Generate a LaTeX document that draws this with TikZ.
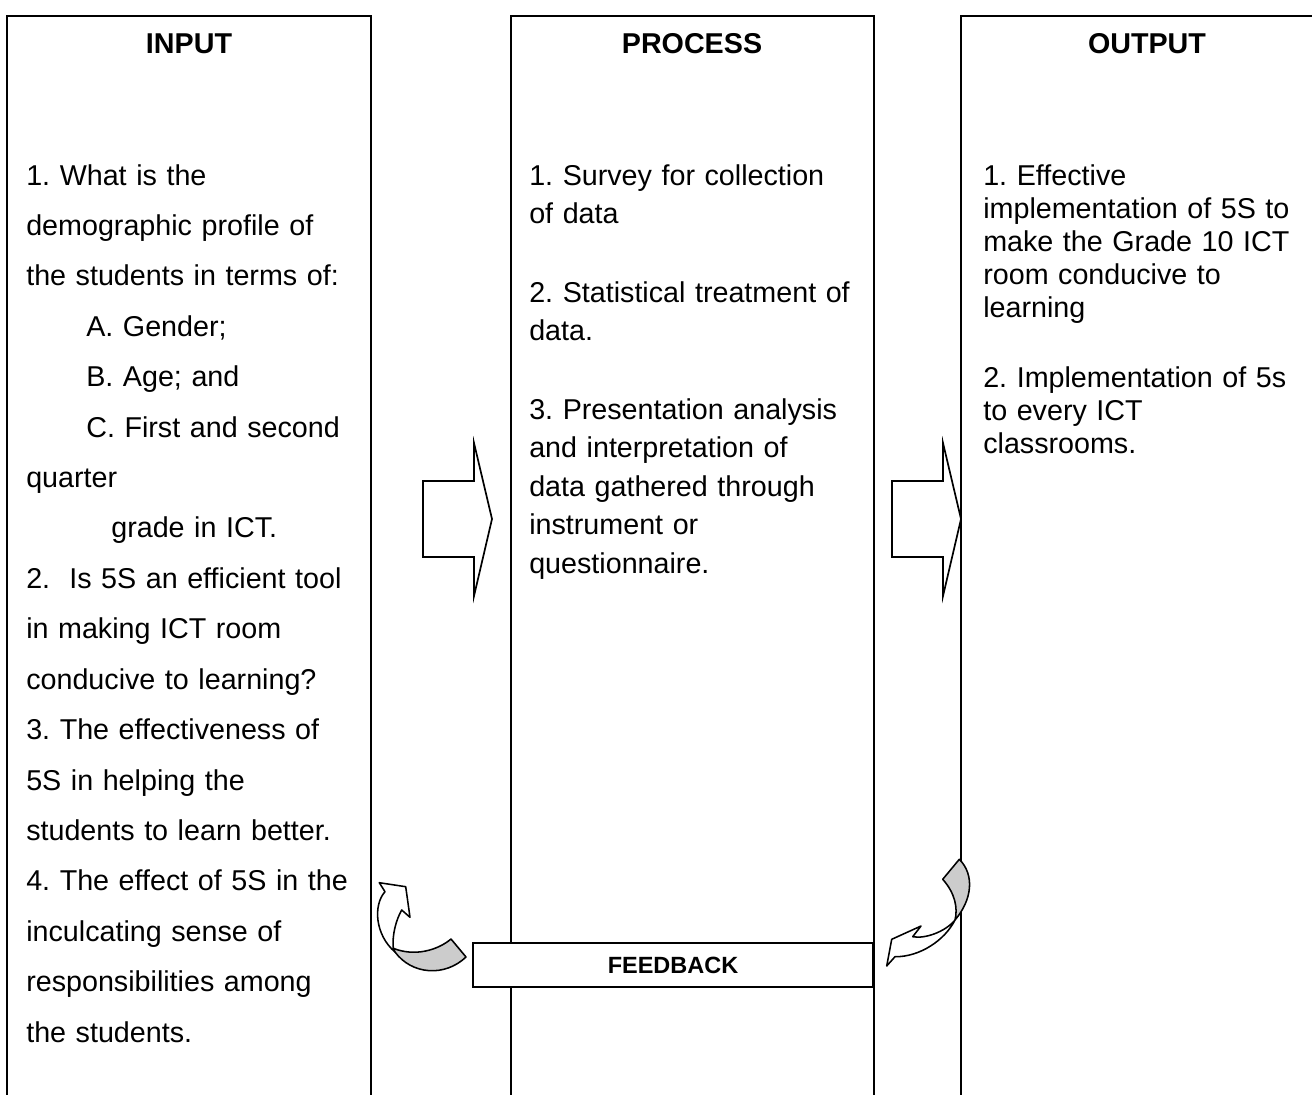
\documentclass[tikz,border=0pt]{standalone}
\usepackage{fontspec}
\setmainfont{Liberation Sans}
\frenchspacing

\begin{document}
\begin{tikzpicture}[x=0.025cm, y=-0.025cm,
		colline/.style={line width=1.3pt},
		head/.style={font=\fontsize{20.4pt}{24pt}\selectfont\bfseries},
		coltext/.style={anchor=north west, inner sep=0pt, text width=9cm, align=left},
		blockarrow/.style={line width=1.2pt, fill=white},
		bendfront/.style={line width=1.1pt, fill=white, line join=round},
		bendback/.style={line width=1.1pt, fill=gray!40, line join=round}]
			% Page
			\useasboundingbox (0,0) rectangle (1312,1095);
			
			% Columns, open at the bottom
			\draw[colline] (7,1095) -- (7,16) -- (371,16) -- (371,1095);
			\draw[colline] (511,1095) -- (511,16) -- (874,16) -- (874,1095);
			\draw[colline] (961,1095) -- (961,16) -- (1312,16);
			
			% Headings
			\node[head] (inputhead) at (189,44) {INPUT};
			\node[head] (processhead) at (692,44) {PROCESS};
			\node[head] (outputhead) at (1147,44) {OUTPUT};
			
			% Input column
			\node[coltext, font=\fontsize{20.4pt}{35.85pt}\selectfont] (inputtext) at (26,164) {1. What is the\\
				demographic profile of\\
				the students in terms of:\\
				\hspace*{1.5cm}A. Gender;\\
				\hspace*{1.5cm}B. Age; and\\
				\hspace*{1.5cm}C. First and second\\
				quarter\\
				\hspace*{2.125cm}grade in ICT.\\
				2.\ \ Is 5S an efficient tool\\
				in making ICT room\\
				conducive to learning?\\
				3. The effectiveness of\\
				5S in helping the\\
				students to learn better.\\
				4. The effect of 5S in the\\
				inculcating sense of\\
				responsibilities among\\
				the students.};
			
			% Process column
			\node[coltext, font=\fontsize{20.4pt}{27.4pt}\selectfont] (processtext) at (529,164) {1. Survey for collection\\
				of data\\[1cm]
				2. Statistical treatment of\\
				data.\\[1cm]
				3. Presentation analysis\\
				and interpretation of\\
				data gathered through\\
				instrument or\\
				questionnaire.};
			
			% Output column
			\node[coltext, font=\fontsize{20.4pt}{23.5pt}\selectfont] (outputtext) at (983,164) {1. Effective\\
				implementation of 5S to\\
				make the Grade 10 ICT\\
				room conducive to\\
				learning\\[0.925cm]
				2. Implementation of 5s\\
				to every ICT\\
				classrooms.};
			
			% Block arrows between columns
			\draw[blockarrow] (423,481) -- (474,481) -- (474,443) -- (492,519) -- (474,596) -- (474,557) -- (423,557) -- cycle;
			\draw[blockarrow] (892,481) -- (943,481) -- (943,443) -- (961,519) -- (943,596) -- (943,557) -- (892,557) -- cycle;
			
			% Feedback bar
			\node[draw, line width=1.3pt, fill=white, minimum width=10cm, minimum height=1.1cm, inner sep=0pt,
			font=\fontsize{16.7pt}{20pt}\selectfont\bfseries] (feedback) at (673,965) {FEEDBACK};
			
			% Curved arrow into the input column
			\draw[bendfront] (385,891.7) -- (379.3,882.7) -- (405.7,886.7) -- (410,917.3) -- (401.7,910)
			.. controls (396,920) and (392,935) .. (393.3,948.3) -- (395,952)
			.. controls (375,935) and (373,905) .. (385,891.7) -- cycle;
			\draw[bendback] (393.3,948.3) .. controls (415,957) and (438,950) .. (451,939) -- (466,957)
			.. controls (445,977) and (412,975) .. (395,952) -- cycle;
			
			% Curved arrow out of the output column
			\draw[bendback] (959.3,859.3) -- (942.7,879.3) .. controls (955,893) and (958,908) .. (955,920)
			.. controls (972,900) and (975,875) .. (959.3,859.3) -- cycle;
			\draw[bendfront] (955,920) .. controls (945,940) and (920,957) .. (895,956.7) -- (886.7,966)
			-- (891.7,939.3) -- (921,926) -- (912.7,936.7)
			.. controls (925,939) and (945,932) .. (955,920) -- cycle;
		\end{tikzpicture}
\end{document}
